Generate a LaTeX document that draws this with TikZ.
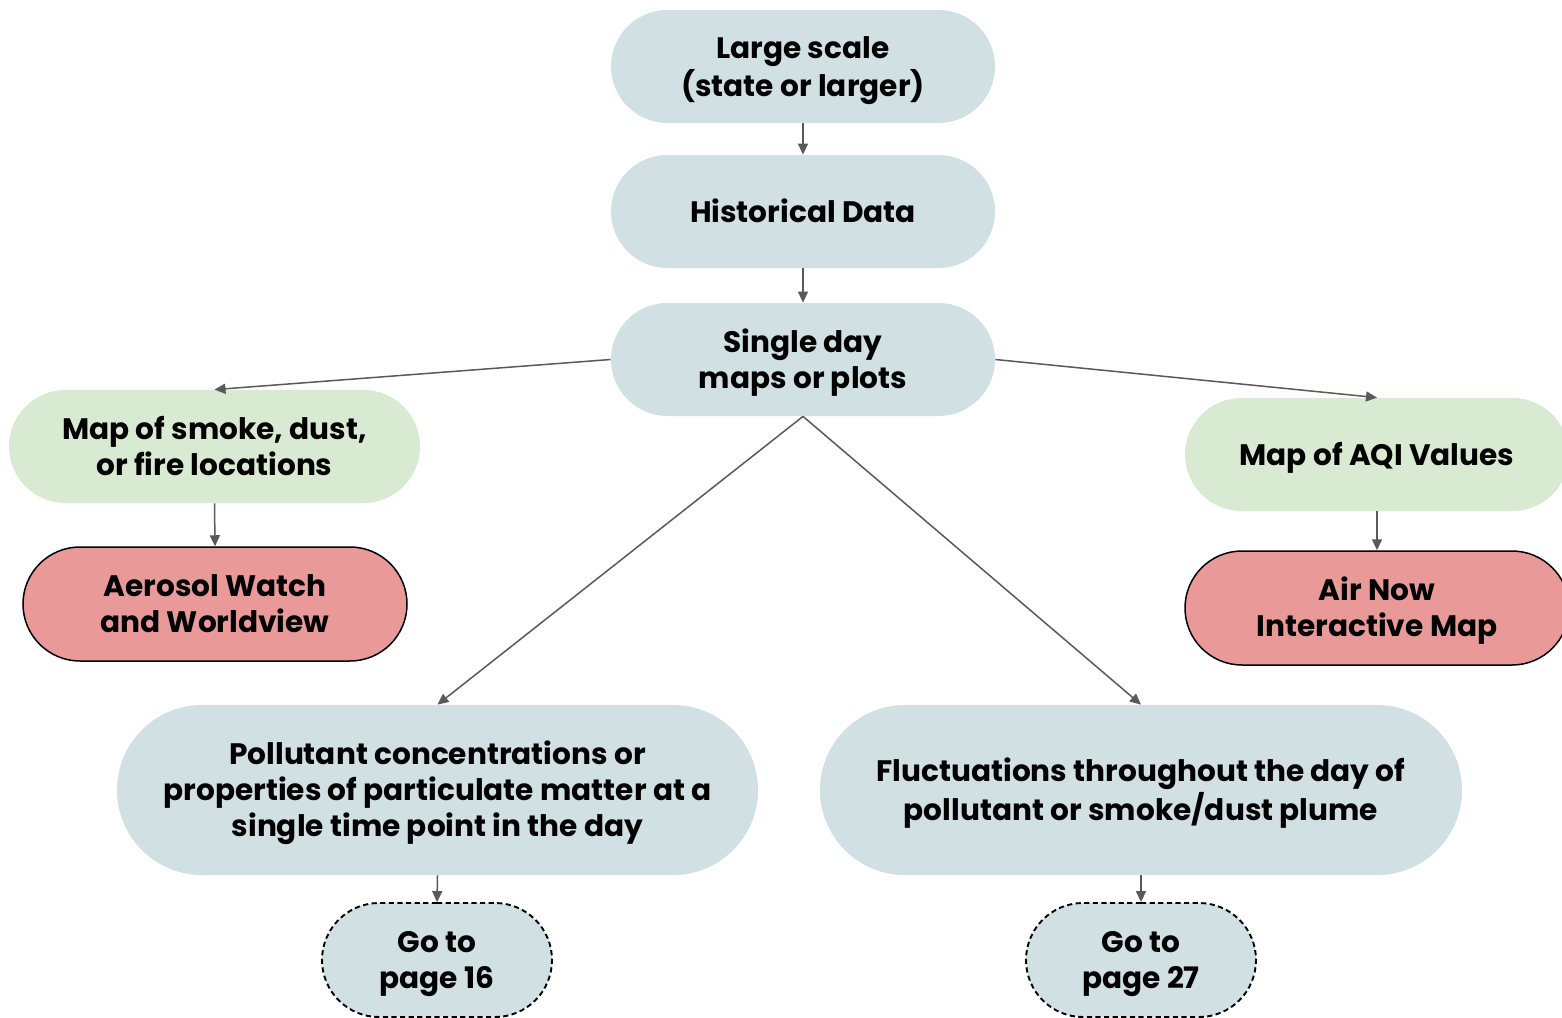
\documentclass[tikz,border=0pt]{standalone}
\usepackage{fontspec}
\setmainfont{Poppins}[BoldFont={* Bold}]
\usetikzlibrary{shapes.misc,arrows.meta}
\definecolor{bluebox}{HTML}{D0E0E3}
\definecolor{greenbox}{HTML}{D9EAD3}
\definecolor{redbox}{HTML}{EA9999}
\definecolor{arrowgray}{HTML}{595959}
\newcommand{\nt}[1]{\raisebox{-1.8pt}[\height][\depth]{\begin{tabular}{@{}c@{}}#1\end{tabular}}}
\tikzset{
  base/.style={rounded rectangle, inner sep=0pt,
    font=\fontsize{14.8}{18}\selectfont\bfseries, text=black},
  bluenode/.style={base, fill=bluebox},
  greennode/.style={base, fill=greenbox},
  rednode/.style={base, fill=redbox, draw=black, line width=0.75pt},
  gonode/.style={base, fill=bluebox, draw=black, line width=0.95pt, dash pattern=on 2.6pt off 1.7pt},
  conn/.style={draw=arrowgray, line width=0.75pt, -{Triangle[length=5.5pt,width=5pt]}}
}
\begin{document}
\begin{tikzpicture}[x=0.5pt,y=-0.5pt]
\clip (0,0) rectangle (1562,1017);
\fill[white] (0,0) rectangle (1562,1017);
\node[bluenode, minimum width=192pt, minimum height=56.5pt] (large) at (803,66.5) {\nt{Large scale\\(state or larger)}};
\node[bluenode, minimum width=192pt, minimum height=56.5pt] (hist) at (803,211.5) {\nt{Historical Data}};
\node[bluenode, minimum width=192pt, minimum height=56.5pt] (single) at (803,359.5) {\nt{Single day\\maps or plots}};
\node[greennode, minimum width=205.5pt, minimum height=56.5pt] (smoke) at (214.5,446.5) {\nt{Map of smoke, dust,\\or fire locations}};
\node[rednode, minimum width=192pt, minimum height=57pt] (aerosol) at (215,604) {\nt{Aerosol Watch\\and Worldview}};
\node[greennode, minimum width=192pt, minimum height=56.5pt] (aqi) at (1377,454.5) {\nt{Map of AQI Values}};
\node[rednode, minimum width=192pt, minimum height=57pt] (airnow) at (1377,608) {\nt{Air Now\\Interactive Map}};
\node[bluenode, minimum width=320.5pt, minimum height=85pt] (poll) at (437.5,790) {\nt{Pollutant concentrations or\\properties of particulate matter at a\\single time point in the day}};
\node[bluenode, minimum width=321pt, minimum height=85pt] (fluct) at (1141,790) {\nt{Fluctuations throughout the day of\\pollutant or smoke/dust plume}};
\node[gonode, minimum width=115pt, minimum height=57pt] (go16) at (437,960) {\nt{Go to\\page 16}};
\node[gonode, minimum width=115pt, minimum height=57pt] (go27) at (1141,960) {\nt{Go to\\page 27}};
\draw[conn] (large.south) -- (hist.north);
\draw[conn] (hist.south) -- (single.north);
\draw[conn] (single.west) -- (smoke.north);
\draw[conn] (single.east) -- (aqi.north);
\draw[conn] (single.south) -- (poll.north);
\draw[conn] (single.south) -- (fluct.north);
\draw[conn] (smoke.south) -- (aerosol.north);
\draw[conn] (aqi.south) -- (airnow.north);
\draw[conn] (poll.south) -- (go16.north);
\draw[conn] (fluct.south) -- (go27.north);
\end{tikzpicture}
\end{document}
